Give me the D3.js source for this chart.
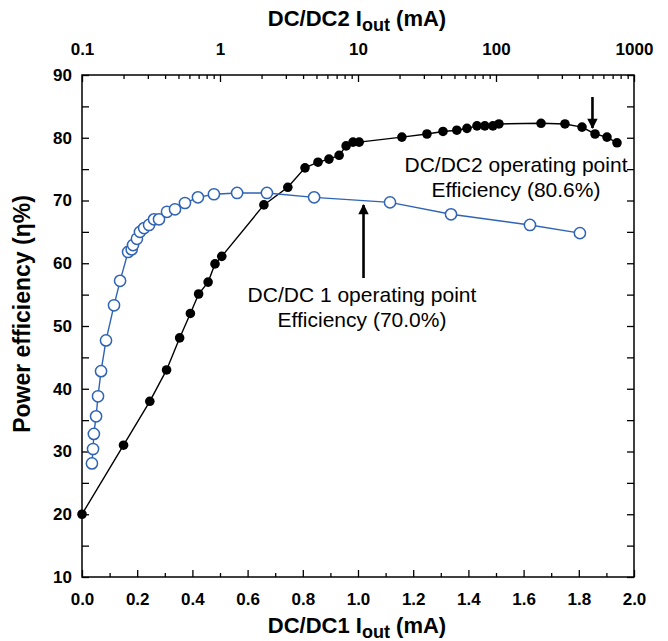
<!DOCTYPE html>
<html>
<head>
<meta charset="utf-8">
<script src="https://cdn.jsdelivr.net/npm/d3@7"></script>
<style>
  body { margin: 0; background: #fff; }
  text { font-family: "Liberation Sans", Arial, sans-serif; }
</style>
</head>
<body>
<div id="chart"></div>
<script>
// DC/DC2 (top log axis) efficiency vs load current
const dc2Iout = [0.1, 0.2, 0.31, 0.41, 0.51, 0.61, 0.7, 0.82, 0.92, 1.03, 2.08, 3.1, 4.13, 5.13, 6.16, 7.3, 8.2, 9.2, 10.2,
  20.8, 31.6, 41.3, 52, 61.6, 72.8, 83, 95, 105, 212, 316, 420, 522, 637, 753]
const dc2Eff = [20.0, 31.0, 38.0, 43.0, 48.1, 52.0, 55.1, 57.0, 59.9, 61.1, 69.3, 72.1, 75.2, 76.1, 76.6, 77.2, 78.7, 79.3, 79.3,
  80.1, 80.6, 81.0, 81.2, 81.5, 81.9, 81.9, 81.9, 82.2, 82.3, 82.2, 81.7, 80.6, 80.1, 79.2]

// DC/DC1 (bottom linear axis)
const dc1Iout = [0.036, 0.04, 0.043, 0.051, 0.058, 0.069, 0.087, 0.116, 0.138, 0.167, 0.18, 0.185, 0.199, 0.21, 0.225,
  0.243, 0.261, 0.279, 0.308, 0.337, 0.373, 0.42, 0.478, 0.562, 0.67, 0.841, 1.116, 1.337, 1.623, 1.804]
const dc1Eff = [28.1, 30.4, 32.8, 35.6, 38.8, 42.8, 47.7, 53.3, 57.2, 61.8, 62.2, 62.9, 63.9, 65.0, 65.6,
  66.1, 67.0, 67.0, 68.2, 68.6, 69.6, 70.5, 71.0, 71.2, 71.2, 70.5, 69.7, 67.8, 66.1, 64.8]

const bottomTicks = [0, 0.2, 0.4, 0.6, 0.8, 1.0, 1.2, 1.4, 1.6, 1.8, 2.0]
const topTicks = [0.1, 1, 10, 100, 1000]
const yTicks = [10, 20, 30, 40, 50, 60, 70, 80, 90]

const width = 668, height = 641
const mLeft = 82, mRight = 634, mTop = 75, mBottom = 577

const svg = d3.select("#chart").append("svg")
  .attr("width", width)
  .attr("height", height)

const x1 = d3.scaleLinear().domain([0, 2]).range([mLeft, mRight])
const x2 = d3.scaleLog().domain([0.1, 1000]).range([mLeft, mRight])
const y = d3.scaleLinear().domain([10, 90]).range([mBottom, mTop])

// minor ticks
let bottomMinor = d3.range(0.1, 2, 0.2)
let topMinor = []
topTicks.slice(0, -1).forEach(d => { for (let k = 2; k < 10; k++) topMinor.push(d * k) })
let yAll = d3.range(10, 91, 5)

function styleAxis(g) {
  g.select(".domain").remove()
  g.selectAll(".tick line").attr("stroke", "#000").attr("stroke-width", 1.3)
  g.selectAll(".tick text")
    .attr("fill", "#000")
    .style("font-size", "17px")
    .style("font-weight", "bold")
}

svg.append("g")
  .attr("transform", "translate(0," + mBottom + ")")
  .call(d3.axisBottom(x1).tickValues(bottomTicks).tickSize(-7).tickPadding(16).tickFormat(d3.format(".1f")))
  .call(styleAxis)
svg.append("g")
  .attr("transform", "translate(0," + mBottom + ")")
  .call(d3.axisBottom(x1).tickValues(bottomMinor).tickSize(-4).tickFormat(""))
  .call(styleAxis)

svg.append("g")
  .attr("transform", "translate(0," + mTop + ")")
  .call(d3.axisTop(x2).tickValues(topTicks).tickSize(-7).tickPadding(20).tickFormat(d => d))
  .call(styleAxis)
svg.append("g")
  .attr("transform", "translate(0," + mTop + ")")
  .call(d3.axisTop(x2).tickValues(topMinor).tickSize(-4).tickFormat(""))
  .call(styleAxis)

svg.append("g")
  .attr("transform", "translate(" + mLeft + ",0)")
  .call(d3.axisLeft(y).tickValues(yAll).tickSize(-7).tickPadding(10).tickFormat(d => yTicks.includes(d) ? d : ""))
  .call(styleAxis)
svg.append("g")
  .attr("transform", "translate(" + mRight + ",0)")
  .call(d3.axisRight(y).tickValues(yAll).tickSize(-7).tickFormat(""))
  .call(styleAxis)

svg.append("rect")
  .attr("x", mLeft).attr("y", mTop)
  .attr("width", mRight - mLeft).attr("height", mBottom - mTop)
  .attr("fill", "none").attr("stroke", "#000").attr("stroke-width", 1.5)

// axis titles
svg.append("text")
  .attr("x", 357).attr("y", 26)
  .attr("text-anchor", "middle")
  .style("font-size", "22px").style("font-weight", "bold")
  .html('DC/DC2 I<tspan dy="5" font-size="18px">out</tspan><tspan dy="-5"> (mA)</tspan>')

svg.append("text")
  .attr("x", 357).attr("y", 633)
  .attr("text-anchor", "middle")
  .style("font-size", "22px").style("font-weight", "bold")
  .html('DC/DC1 I<tspan dy="5" font-size="18px">out</tspan><tspan dy="-5"> (mA)</tspan>')

svg.append("text")
  .attr("transform", "translate(30,314) rotate(-90)")
  .attr("text-anchor", "middle")
  .style("font-size", "23px").style("font-weight", "bold")
  .text("Power efficiency (η%)")

// lines
const blue = "#2f63b5"
const dc2 = dc2Iout.map((d, i) => [d, dc2Eff[i]])
const dc1 = dc1Iout.map((d, i) => [d, dc1Eff[i]])

svg.append("path")
  .datum(dc2)
  .attr("fill", "none").attr("stroke", "#000").attr("stroke-width", 1.4)
  .attr("d", d3.line().x(d => x2(d[0])).y(d => y(d[1])))

svg.append("path")
  .datum(dc1)
  .attr("fill", "none").attr("stroke", blue).attr("stroke-width", 1.4)
  .attr("d", d3.line().x(d => x1(d[0])).y(d => y(d[1])))

svg.append("g").selectAll("circle")
  .data(dc2).enter().append("circle")
  .attr("cx", d => x2(d[0])).attr("cy", d => y(d[1]))
  .attr("r", 4.8).attr("fill", "#000")

svg.append("g").selectAll("circle")
  .data(dc1).enter().append("circle")
  .attr("cx", d => x1(d[0])).attr("cy", d => y(d[1]))
  .attr("r", 5.6).attr("fill", "#fff").attr("stroke", blue).attr("stroke-width", 1.5)

// annotations
svg.append("defs").append("marker")
  .attr("id", "head").attr("viewBox", "0 0 10 10")
  .attr("refX", 9).attr("refY", 5)
  .attr("markerWidth", 4.4).attr("markerHeight", 4)
  .attr("orient", "auto")
  .append("path").attr("d", "M0,0L10,5L0,10Z").attr("fill", "#000")

function arrow(xv, y0, y1) {
  svg.append("line")
    .attr("x1", xv).attr("y1", y0).attr("x2", xv).attr("y2", y1)
    .attr("stroke", "#000").attr("stroke-width", 2.6)
    .attr("marker-end", "url(#head)")
}
arrow(x1(1.02), 278, 205)
arrow(x2(500), 97, 128)

function note(xc, yb, lines) {
  lines.forEach((t, i) => {
    svg.append("text")
      .attr("x", xc).attr("y", yb + i * 25)
      .attr("text-anchor", "middle")
      .style("font-size", "21px")
      .text(t)
  })
}
note(362, 302, ["DC/DC 1 operating point", "Efficiency (70.0%)"])
note(516, 172, ["DC/DC2 operating point", "Efficiency (80.6%)"])
</script>
</body>
</html>
